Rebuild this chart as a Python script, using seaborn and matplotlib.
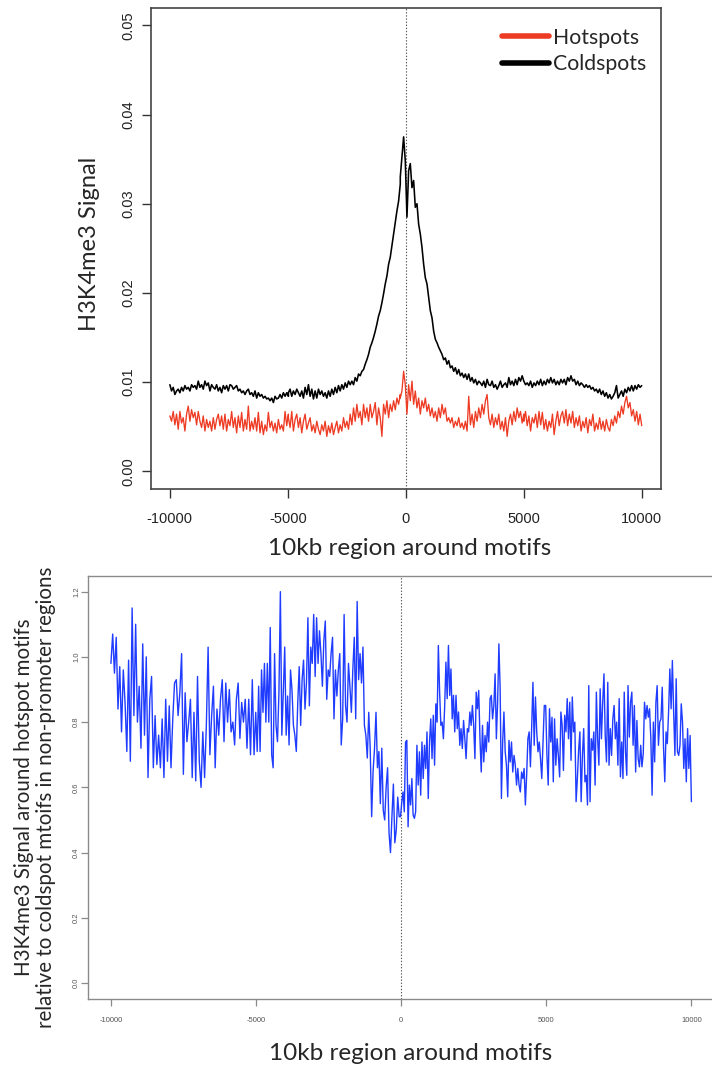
import numpy as np
import pandas as pd
import matplotlib
matplotlib.use("Agg")
import matplotlib.pyplot as plt
import seaborn as sns
from matplotlib.lines import Line2D

# ---------------- data ----------------
x_ticks = [-10000, -5000, 0, 5000, 10000]
x_tick_labels = ["-10000", "-5000", "0", "5000", "10000"]
top_y_ticks = [0.00, 0.01, 0.02, 0.03, 0.04, 0.05]
top_y_labels = ["0.00", "0.01", "0.02", "0.03", "0.04", "0.05"]
bot_y_ticks = [0.0, 0.2, 0.4, 0.6, 0.8, 1.0, 1.2]
bot_y_labels = ["0.0", "0.2", "0.4", "0.6", "0.8", "1.0", "1.2"]
series_names = ["Hotspots", "Coldspots"]

# bp spans covered by each block of read-off samples
top_spans = [(-10000, -4976), (-4976, -234), (-234, 5003), (5003, 10000)]
ratio_spans = [(-10000, -5068), (-5010, -68), (-22, 4932), (4980, 10000)]

cold_a = [0.0097, 0.0090, 0.0094, 0.0086, 0.0090, 0.0092, 0.0088, 0.0094, 0.0090, 0.0096,
          0.0092, 0.0094, 0.0090, 0.0097, 0.0094, 0.0096, 0.0092, 0.0101, 0.0094, 0.0097,
          0.0092, 0.0101, 0.0096, 0.0099, 0.0090, 0.0097, 0.0094, 0.0092, 0.0097, 0.0090,
          0.0094, 0.0088, 0.0096, 0.0092, 0.0096, 0.0090, 0.0097, 0.0096, 0.0092, 0.0094,
          0.0096, 0.0090, 0.0092, 0.0088, 0.0090, 0.0086, 0.0090, 0.0092, 0.0086, 0.0088,
          0.0084, 0.0090, 0.0082, 0.0088, 0.0084, 0.0086, 0.0082, 0.0084, 0.0081, 0.0082,
          0.0079, 0.0082, 0.0077, 0.0084, 0.0081, 0.0082, 0.0086, 0.0082, 0.0088, 0.0084,
          0.0088, 0.0084]
cold_b = [0.0088, 0.0092, 0.0084, 0.0090, 0.0086, 0.0092, 0.0088, 0.0084, 0.0090, 0.0082,
          0.0094, 0.0086, 0.0097, 0.0084, 0.0092, 0.0081, 0.0090, 0.0082, 0.0092, 0.0086,
          0.0090, 0.0084, 0.0088, 0.0082, 0.0090, 0.0084, 0.0092, 0.0086, 0.0094, 0.0088,
          0.0096, 0.0090, 0.0097, 0.0092, 0.0099, 0.0094, 0.0101, 0.0097, 0.0101, 0.0097,
          0.0105, 0.0101, 0.0109, 0.0107, 0.0112, 0.0114, 0.0120, 0.0125, 0.0131, 0.0139,
          0.0144, 0.0150, 0.0157, 0.0165, 0.0174, 0.0180, 0.0189, 0.0199, 0.0210, 0.0219,
          0.0232, 0.0240, 0.0253, 0.0266, 0.0279, 0.0292, 0.0303, 0.0322]
cold_c = [0.0330, 0.0352, 0.0375, 0.0348, 0.0285, 0.0337, 0.0345, 0.0318, 0.0326, 0.0296,
          0.0300, 0.0277, 0.0266, 0.0251, 0.0232, 0.0217, 0.0210, 0.0195, 0.0180, 0.0172,
          0.0157, 0.0148, 0.0144, 0.0139, 0.0135, 0.0131, 0.0125, 0.0127, 0.0120, 0.0124,
          0.0116, 0.0118, 0.0112, 0.0116, 0.0109, 0.0114, 0.0107, 0.0110, 0.0105, 0.0109,
          0.0103, 0.0109, 0.0101, 0.0105, 0.0099, 0.0103, 0.0097, 0.0101, 0.0099, 0.0096,
          0.0101, 0.0094, 0.0103, 0.0097, 0.0096, 0.0101, 0.0094, 0.0097, 0.0092, 0.0096,
          0.0101, 0.0094, 0.0097, 0.0099, 0.0094, 0.0105, 0.0097, 0.0101, 0.0096, 0.0103,
          0.0097, 0.0105, 0.0101, 0.0107, 0.0101]
cold_d = [0.0101, 0.0097, 0.0099, 0.0096, 0.0101, 0.0094, 0.0099, 0.0096, 0.0101, 0.0097,
          0.0103, 0.0096, 0.0101, 0.0097, 0.0103, 0.0099, 0.0105, 0.0099, 0.0103, 0.0097,
          0.0101, 0.0097, 0.0103, 0.0099, 0.0103, 0.0097, 0.0105, 0.0101, 0.0107, 0.0101,
          0.0103, 0.0097, 0.0101, 0.0096, 0.0099, 0.0097, 0.0094, 0.0097, 0.0094, 0.0096,
          0.0092, 0.0094, 0.0090, 0.0092, 0.0088, 0.0092, 0.0086, 0.0090, 0.0084, 0.0088,
          0.0082, 0.0086, 0.0081, 0.0084, 0.0088, 0.0096, 0.0082, 0.0086, 0.0090, 0.0084,
          0.0092, 0.0088, 0.0094, 0.0090, 0.0096, 0.0090, 0.0096, 0.0092, 0.0097, 0.0094,
          0.0096]

hot_a = [0.0062, 0.0056, 0.0067, 0.0052, 0.0064, 0.0047, 0.0067, 0.0054, 0.0060, 0.0045,
         0.0064, 0.0073, 0.0056, 0.0069, 0.0060, 0.0066, 0.0052, 0.0067, 0.0056, 0.0049,
         0.0062, 0.0045, 0.0058, 0.0049, 0.0056, 0.0045, 0.0060, 0.0047, 0.0058, 0.0064,
         0.0051, 0.0062, 0.0047, 0.0064, 0.0045, 0.0058, 0.0051, 0.0067, 0.0049, 0.0060,
         0.0043, 0.0062, 0.0049, 0.0066, 0.0045, 0.0058, 0.0047, 0.0073, 0.0045, 0.0056,
         0.0047, 0.0060, 0.0045, 0.0066, 0.0043, 0.0056, 0.0041, 0.0052, 0.0045, 0.0066,
         0.0049, 0.0056, 0.0045, 0.0054, 0.0043, 0.0058, 0.0047, 0.0052, 0.0045, 0.0067,
         0.0051, 0.0064]
hot_b = [0.0060, 0.0049, 0.0067, 0.0045, 0.0058, 0.0064, 0.0049, 0.0060, 0.0043, 0.0056,
         0.0064, 0.0047, 0.0054, 0.0060, 0.0045, 0.0052, 0.0043, 0.0056, 0.0047, 0.0041,
         0.0052, 0.0045, 0.0056, 0.0039, 0.0051, 0.0043, 0.0054, 0.0041, 0.0049, 0.0056,
         0.0043, 0.0052, 0.0045, 0.0060, 0.0049, 0.0056, 0.0047, 0.0064, 0.0052, 0.0071,
         0.0056, 0.0075, 0.0060, 0.0067, 0.0052, 0.0075, 0.0060, 0.0071, 0.0056, 0.0075,
         0.0060, 0.0067, 0.0077, 0.0052, 0.0071, 0.0060, 0.0039, 0.0075, 0.0064, 0.0079,
         0.0060, 0.0075, 0.0067, 0.0079, 0.0069, 0.0082, 0.0075, 0.0086]
hot_c = [0.0082, 0.0090, 0.0112, 0.0097, 0.0064, 0.0097, 0.0079, 0.0101, 0.0075, 0.0090,
         0.0071, 0.0082, 0.0064, 0.0079, 0.0071, 0.0082, 0.0067, 0.0075, 0.0062, 0.0071,
         0.0060, 0.0067, 0.0056, 0.0071, 0.0060, 0.0075, 0.0064, 0.0071, 0.0056, 0.0060,
         0.0054, 0.0060, 0.0049, 0.0056, 0.0051, 0.0060, 0.0049, 0.0054, 0.0047, 0.0056,
         0.0045, 0.0084, 0.0052, 0.0064, 0.0049, 0.0067, 0.0056, 0.0071, 0.0060, 0.0075,
         0.0064, 0.0079, 0.0086, 0.0060, 0.0052, 0.0064, 0.0049, 0.0060, 0.0052, 0.0064,
         0.0047, 0.0056, 0.0045, 0.0060, 0.0039, 0.0056, 0.0064, 0.0052, 0.0067, 0.0056,
         0.0071, 0.0060, 0.0067, 0.0054, 0.0064]
hot_d = [0.0056, 0.0067, 0.0051, 0.0062, 0.0045, 0.0060, 0.0054, 0.0064, 0.0049, 0.0067,
         0.0052, 0.0066, 0.0047, 0.0058, 0.0045, 0.0056, 0.0049, 0.0064, 0.0041, 0.0056,
         0.0067, 0.0051, 0.0062, 0.0067, 0.0054, 0.0069, 0.0051, 0.0064, 0.0054, 0.0067,
         0.0049, 0.0060, 0.0051, 0.0062, 0.0045, 0.0056, 0.0049, 0.0060, 0.0043, 0.0058,
         0.0051, 0.0064, 0.0045, 0.0054, 0.0047, 0.0060, 0.0047, 0.0056, 0.0045, 0.0058,
         0.0049, 0.0045, 0.0058, 0.0051, 0.0062, 0.0054, 0.0067, 0.0060, 0.0073, 0.0064,
         0.0077, 0.0084, 0.0071, 0.0077, 0.0062, 0.0069, 0.0056, 0.0067, 0.0052, 0.0064,
         0.0051]

ratio_a = [0.98, 1.07, 0.95, 1.06, 0.84, 0.97, 0.77, 0.96, 0.86, 0.71,
           0.99, 0.68, 1.15, 0.82, 1.10, 0.80, 0.91, 0.72, 1.04, 0.76,
           1.00, 0.63, 0.87, 0.94, 0.66, 0.82, 0.67, 0.76, 0.66, 0.81,
           0.63, 0.87, 0.68, 0.85, 0.66, 0.81, 0.92, 0.93, 0.82, 0.89,
           1.01, 0.64, 0.89, 0.74, 0.80, 0.87, 0.63, 0.83, 0.62, 0.94,
           0.68, 0.60, 0.77, 0.63, 0.79, 1.03, 0.70, 0.82, 0.91, 0.66,
           0.84, 0.76, 0.87, 0.93, 0.74, 0.92, 0.80, 0.90, 0.77, 0.80,
           0.73, 0.87, 0.92, 0.75, 0.86, 0.80, 0.87, 0.72, 0.87, 0.70,
           0.93, 0.70]
ratio_b = [0.83, 0.71, 0.91, 0.71, 0.96, 0.83, 0.98, 0.80, 0.98, 0.80,
           1.09, 0.70, 0.66, 1.01, 0.79, 0.74, 0.89, 1.20, 0.76, 0.89,
           1.03, 0.76, 0.88, 0.73, 0.96, 0.90, 0.79, 0.76, 0.71, 0.86,
           0.97, 0.79, 0.93, 0.99, 0.84, 0.92, 1.12, 0.85, 1.03, 0.98,
           1.13, 0.94, 1.12, 0.98, 1.08, 1.01, 0.91, 1.05, 1.11, 0.87,
           0.96, 0.94, 1.01, 1.06, 0.81, 0.96, 0.88, 0.96, 1.01, 0.73,
           0.81, 1.13, 0.85, 0.80, 0.98, 0.91, 0.83, 0.96, 1.06, 0.81,
           1.17, 0.93, 1.01, 0.92, 1.03, 0.79, 0.76, 0.69, 0.83, 0.72,
           0.51, 0.65, 0.72, 0.83, 0.66, 0.71, 0.55, 0.72, 0.53, 0.50,
           0.60, 0.66, 0.46, 0.40, 0.51, 0.61, 0.43, 0.47, 0.57, 0.51]
ratio_c = [0.51, 0.555, 0.586, 0.525, 0.739, 0.744, 0.479, 0.607, 0.546, 0.627,
           0.515, 0.505, 0.525, 0.729, 0.607, 0.709, 0.576, 0.739, 0.627, 0.729,
           0.658, 0.770, 0.566, 0.739, 0.810, 0.688, 0.821, 0.668, 0.856, 0.800,
           1.035, 0.892, 0.790, 0.800, 0.749, 0.846, 0.984, 0.872, 1.035, 0.882,
           0.963, 0.810, 0.882, 0.770, 0.882, 0.780, 0.831, 0.729, 0.780, 0.719,
           0.805, 0.749, 0.688, 0.780, 0.770, 0.831, 0.790, 0.851, 0.790, 0.688,
           0.892, 0.841, 0.897, 0.749, 0.647, 0.790, 0.678, 0.759, 0.709, 0.800,
           0.739, 0.872, 0.882, 0.810, 0.851, 0.948, 0.749, 0.861, 1.040, 0.902,
           0.566, 0.739, 0.831, 0.709, 0.668, 0.571, 0.744, 0.678, 0.739, 0.647,
           0.698, 0.668, 0.607, 0.658, 0.607, 0.586, 0.647, 0.627, 0.658, 0.546,
           0.637, 0.749, 0.770, 0.663, 0.785, 0.922, 0.729, 0.877, 0.770, 0.709,
           0.739, 0.688, 0.627, 0.739, 0.851]
ratio_d = [0.851, 0.698, 0.607, 0.841, 0.739, 0.815, 0.617, 0.810, 0.668, 0.749,
           0.698, 0.632, 0.831, 0.790, 0.652, 0.821, 0.770, 0.872, 0.749, 0.861,
           0.683, 0.877, 0.770, 0.800, 0.556, 0.627, 0.714, 0.770, 0.556, 0.698,
           0.780, 0.617, 0.637, 0.546, 0.912, 0.556, 0.749, 0.714, 0.770, 0.607,
           0.892, 0.749, 0.668, 0.902, 0.749, 0.861, 0.948, 0.759, 0.678, 0.922,
           0.668, 0.780, 0.698, 0.810, 0.851, 0.749, 0.800, 0.668, 0.872, 0.632,
           0.739, 0.627, 0.892, 0.709, 0.637, 0.912, 0.754, 0.861, 0.892, 0.729,
           0.851, 0.647, 0.805, 0.688, 0.663, 0.729, 0.663, 0.703, 0.861, 0.810,
           0.851, 0.815, 0.841, 0.749, 0.576, 0.800, 0.678, 0.861, 0.912, 0.729,
           0.800, 0.810, 0.907, 0.724, 0.617, 0.770, 0.734, 0.831, 0.963, 0.841,
           0.989, 0.831, 0.698, 0.933, 0.709, 0.698, 0.729, 0.856, 0.800, 0.658,
           0.749, 0.617, 0.780, 0.658, 0.759, 0.556]


def build(blocks, spans):
    xs, ys = [], []
    for vals, (a, b) in zip(blocks, spans):
        xs.append(np.linspace(a, b, len(vals)))
        ys.append(np.asarray(vals, dtype=float))
    return np.concatenate(xs), np.concatenate(ys)


hx, hy = build([hot_a, hot_b, hot_c, hot_d], top_spans)
cx, cy = build([cold_a, cold_b, cold_c, cold_d], top_spans)
rx, ry = build([ratio_a, ratio_b, ratio_c, ratio_d], ratio_spans)
hot_df = pd.DataFrame({"pos": hx, "signal": hy})
cold_df = pd.DataFrame({"pos": cx, "signal": cy})
ratio_df = pd.DataFrame({"pos": rx, "ratio": ry})

# ---------------- style ----------------
sns.set_style("ticks")
plt.rcParams["font.family"] = ["Liberation Sans", "DejaVu Sans"]
LABEL_FONT = ["Lato", "DejaVu Sans"]
RED = "#ee3b24"
BLUE = "#1f3cff"

fig = plt.figure(figsize=(7.12, 10.70), dpi=100)

# ---------------- top panel ----------------
ax1 = fig.add_axes([151 / 712, 1 - 489 / 1070, 509.6 / 712, 481.4 / 1070])
sns.lineplot(data=cold_df, x="pos", y="signal", color="black",
             estimator=None, sort=False, lw=1.15, ax=ax1)
sns.lineplot(data=hot_df, x="pos", y="signal", color=RED,
             estimator=None, sort=False, lw=0.95, ax=ax1)
ax1.axvline(0, color="#555555", lw=0.8, ls=(0, (1.2, 1.6)), zorder=0)
ax1.set_xlim(-10800, 10800)
ax1.set_ylim(-0.002, 0.052)
ax1.set_xticks(x_ticks)
ax1.set_xticklabels(x_tick_labels)
ax1.set_yticks(top_y_ticks)
ax1.set_yticklabels(top_y_labels, rotation=90, va="center")
ax1.tick_params(axis="both", direction="out", length=6.5, width=1.0,
                color="#333333", labelcolor="#222222", labelsize=10.5)
ax1.tick_params(axis="x", pad=10)
ax1.tick_params(axis="y", pad=5)
for s in ax1.spines.values():
    s.set_visible(True)
    s.set_color("#444444")
    s.set_linewidth(1.2)
ax1.set_xlabel("10kb region around motifs", family=LABEL_FONT, fontsize=17.5)
ax1.xaxis.label.set_va("center")
ax1.xaxis.set_label_coords(0.508, -0.1246)
ax1.set_ylabel("H3K4me3 Signal", family=LABEL_FONT, fontsize=17)
ax1.yaxis.label.set_va("center")
ax1.yaxis.set_label_coords((90 - 151) / 509.6, 0.51)

handles = [Line2D([], [], color=RED, lw=4), Line2D([], [], color="black", lw=4)]
ax1.legend(handles, series_names, loc="upper left",
           bbox_to_anchor=((502 - 151) / 509.6, (489 - 27.5) / 481.4),
           frameon=False, handlelength=2.2, handletextpad=0.22,
           labelspacing=0.32, borderpad=0, borderaxespad=0,
           prop={"family": LABEL_FONT, "size": 15.3})

# ---------------- bottom panel ----------------
ax2 = fig.add_axes([87.7 / 712, 1 - 998.7 / 1070, 626.9 / 712, 422.7 / 1070])
sns.lineplot(data=ratio_df, x="pos", y="ratio", color=BLUE,
             estimator=None, sort=False, lw=1.0, ax=ax2)
ax2.axvline(0, color="#555555", lw=0.8, ls=(0, (1.2, 1.6)), zorder=0)
ax2.set_xlim(-10800, 10800)
ax2.set_ylim(-0.048, 1.248)
ax2.set_xticks(x_ticks)
ax2.set_xticklabels(x_tick_labels)
ax2.set_yticks(bot_y_ticks)
ax2.set_yticklabels(bot_y_labels, rotation=90, va="center")
ax2.tick_params(axis="both", direction="out", length=5, width=0.9,
                color="#8a8a8a", labelcolor="#555555", labelsize=5.5)
ax2.tick_params(axis="x", pad=8)
ax2.tick_params(axis="y", pad=0.5)
for s in ax2.spines.values():
    s.set_visible(True)
    s.set_color("#8a8a8a")
    s.set_linewidth(1.0)
ax2.set_xlabel("10kb region around motifs", family=LABEL_FONT, fontsize=17.5)
ax2.xaxis.label.set_va("center")
ax2.xaxis.set_label_coords(0.515, -0.1285)
ax2.set_ylabel("H3K4me3 Signal around hotspot motifs\n"
               "relative to coldspot mtoifs in non-promoter regions",
               family=LABEL_FONT, fontsize=14.8, linespacing=1.13,
               multialignment="center")
ax2.yaxis.label.set_va("center")
ax2.yaxis.set_label_coords((35 - 87.7) / 626.9, 0.476)

fig.savefig("out.png", dpi=100)
